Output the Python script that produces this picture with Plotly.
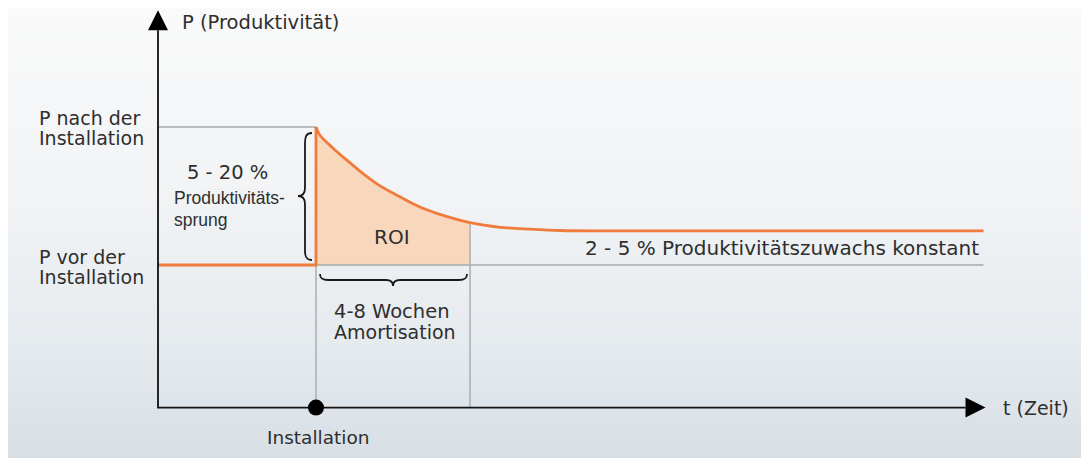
import plotly.graph_objects as go

# ---------------- data ----------------
t_axis = 0.0          # time origin (y-axis position)
t_install = 4.0       # installation time
t_amort = 7.9         # end of amortisation
t_end = 20.9          # end of the drawn time span
P_origin = 84.5       # productivity at the x-axis
P_before = 100.0      # P vor der Installation
P_after = 115.0       # P nach der Installation
P_top = 127.7         # tip of the P axis arrow

# decay curve after installation
curve_t = [4.0, 4.10, 4.43, 4.78, 5.29, 5.62, 6.13, 6.63, 7.14, 7.9, 8.66, 9.42, 10.18, 11.19, 20.9]
curve_P = [115.0, 114.1, 112.7, 111.4, 109.6, 108.6, 107.4, 106.3, 105.5, 104.6, 104.1, 103.9, 103.75, 103.7, 103.7]

# ---------------- layout helpers (style) ----------------
OFF = 8                      # page body margin of the html page
W, H = 1089 - OFF, 466 - 2 * OFF
X0 = 158.0      # reference px of t = 0
PX_T = 39.5     # px per time unit
Y100 = 265.0    # reference px of P = 100
PX_P = 9.2      # px per P unit


def X(px):
    return (px - X0) / PX_T


def Y(py):
    return 100.0 + (Y100 - py) / PX_P


ORANGE = "#ef7b3d"
FILL = "rgba(249,210,178,0.85)"
GRAY = "#a7aaad"
TXT = "#2e2e2e"
MAIN_FONT = "DejaVu Sans"
SMALL_FONT = "Liberation Sans"

fig = go.Figure()

# background gradient bands
stops = [(0, (250, 250, 250)), (200, (241, 243, 245)), (350, (229, 234, 238)), (466, (214, 222, 228))]


def bg_color(py):
    for (y1, c1), (y2, c2) in zip(stops[:-1], stops[1:]):
        if y1 <= py <= y2:
            f = (py - y1) / (y2 - y1)
            return "rgb(%d,%d,%d)" % tuple(round(a + (b - a) * f) for a, b in zip(c1, c2))
    return "rgb(%d,%d,%d)" % stops[-1][1]


shapes = []
band = 6
for i in range(0, H, band):
    shapes.append(dict(type="rect", xref="paper", yref="paper", x0=0, x1=1,
                       y0=max(0, 1 - (i + band) / H), y1=1 - i / H,
                       fillcolor=bg_color(i + OFF + band / 2), line=dict(width=0), layer="below"))

# ROI fill (area between decay curve and P_before up to t_amort)
roi_t = [t for t in curve_t if t <= t_amort]
roi_P = curve_P[:len(roi_t)]
fig.add_trace(go.Scatter(x=[t_install, t_amort], y=[P_before, P_before], mode="lines",
                         line=dict(width=0, color="rgba(0,0,0,0)"), hoverinfo="skip"))
fig.add_trace(go.Scatter(x=roi_t, y=roi_P, fill="tonexty", fillcolor=FILL, mode="lines",
                         line=dict(width=0, color="rgba(0,0,0,0)", shape="spline", smoothing=0.8),
                         hoverinfo="skip"))

# gray guide lines
P_at_amort = roi_P[-1]
gx = [t_axis, t_install, None, t_install, t_end, None, t_install, t_install, None, t_amort, t_amort]
gy = [P_after, P_after, None, P_before, P_before, None, P_origin, P_before, None, P_origin, P_at_amort]
fig.add_trace(go.Scatter(x=gx, y=gy, mode="lines", line=dict(color=GRAY, width=1.4), hoverinfo="skip"))

# productivity line: flat part + jump (straight), then smooth decay
fig.add_trace(go.Scatter(x=[t_axis, t_install, t_install], y=[P_before, P_before, P_after],
                         mode="lines", line=dict(color=ORANGE, width=2.8), hoverinfo="skip"))
fig.add_trace(go.Scatter(x=curve_t, y=curve_P, mode="lines",
                         line=dict(color=ORANGE, width=2.8, shape="spline", smoothing=0.8),
                         hoverinfo="skip"))

# axes
ax_len_t = 20 / PX_T
ax_len_P = 20 / PX_P
xt = t_end + 0.05
fig.add_trace(go.Scatter(x=[xt - ax_len_t, t_axis, t_axis], y=[P_origin, P_origin, P_top - ax_len_P],
                         mode="lines", line=dict(color="#111111", width=1.8), hoverinfo="skip"))

# arrow heads
shapes.append(dict(type="path", xref="x", yref="y",
                   path="M %f %f L %f %f L %f %f Z" % (xt, P_origin, xt - ax_len_t, P_origin + 10 / PX_P,
                                                         xt - ax_len_t, P_origin - 10 / PX_P),
                   fillcolor="#000000", line=dict(width=0)))
shapes.append(dict(type="path", xref="x", yref="y",
                   path="M %f %f L %f %f L %f %f Z" % (t_axis, P_top, t_axis - 10 / PX_T, P_top - ax_len_P,
                                                         t_axis + 10 / PX_T, P_top - ax_len_P),
                   fillcolor="#000000", line=dict(width=0)))

# installation dot
fig.add_trace(go.Scatter(x=[t_install], y=[P_origin], mode="markers",
                         marker=dict(color="#000000", size=16), hoverinfo="skip"))


# braces
def pth(pts):
    out = []
    for cmd, coords in pts:
        out.append(cmd + " " + " ".join("%f,%f" % (X(a), Y(b)) for a, b in coords))
    return " ".join(out)


vbrace = pth([("M", [(312, 133)]),
              ("C", [(306, 133), (305, 137), (305, 143)]),
              ("L", [(305, 188)]),
              ("C", [(305, 193), (303, 196), (298, 196)]),
              ("C", [(303, 196), (305, 199), (305, 204)]),
              ("L", [(305, 251)]),
              ("C", [(305, 256), (306, 260), (312, 260)])])
hbrace = pth([("M", [(320, 274)]),
              ("C", [(320, 279), (323, 280), (328, 280)]),
              ("L", [(386, 280)]),
              ("C", [(391, 280), (393, 282), (393, 286)]),
              ("C", [(393, 282), (395, 280), (400, 280)]),
              ("L", [(459, 280)]),
              ("C", [(464, 280), (467, 279), (467, 274)])])
for p in (vbrace, hbrace):
    shapes.append(dict(type="path", xref="x", yref="y", path=p,
                       line=dict(color="#1a1a1a", width=1.8)))

# texts (positions in reference pixels)
labels = [
    ("P (Produktivität)", 180, 22, "left", 19.5, MAIN_FONT),
    ("P nach der", 37, 118, "left", 19, MAIN_FONT),
    ("Installation", 37, 138, "left", 19, MAIN_FONT),
    ("P vor der", 37, 257, "left", 19, MAIN_FONT),
    ("Installation", 37, 277, "left", 19, MAIN_FONT),
    ("5 - 20 %", 227, 172, "center", 19.5, MAIN_FONT),
    ("Produktivitäts-", 172, 198, "left", 17.5, SMALL_FONT),
    ("sprung", 172, 220, "left", 17.5, SMALL_FONT),
    ("ROI", 392, 237, "center", 20, MAIN_FONT),
    ("4-8 Wochen", 392, 311, "center", 19.5, MAIN_FONT),
    ("Amortisation", 395, 332, "center", 19, MAIN_FONT),
    ("2 - 5 % Produktivitätszuwachs konstant", 981, 248, "right", 20, MAIN_FONT),
    ("Installation", 318, 437, "center", 18.5, MAIN_FONT),
    ("t (Zeit)", 1001, 408, "left", 19, MAIN_FONT),
]
annotations = [dict(text=t, x=X(px), y=Y(py), xref="x", yref="y", xanchor=anc, yanchor="middle",
                    showarrow=False, font=dict(family=fam, size=sz, color=TXT))
               for t, px, py, anc, sz, fam in labels]

fig.update_layout(
    width=W, height=H, margin=dict(l=0, r=0, t=0, b=0),
    paper_bgcolor="#f2f4f5", plot_bgcolor="rgba(0,0,0,0)",
    showlegend=False, shapes=shapes, annotations=annotations,
    xaxis=dict(range=[X(OFF), X(OFF + W)], visible=False, fixedrange=True),
    yaxis=dict(range=[Y(OFF + H), Y(OFF)], visible=False, fixedrange=True),
)

fig.write_html("out.html")
